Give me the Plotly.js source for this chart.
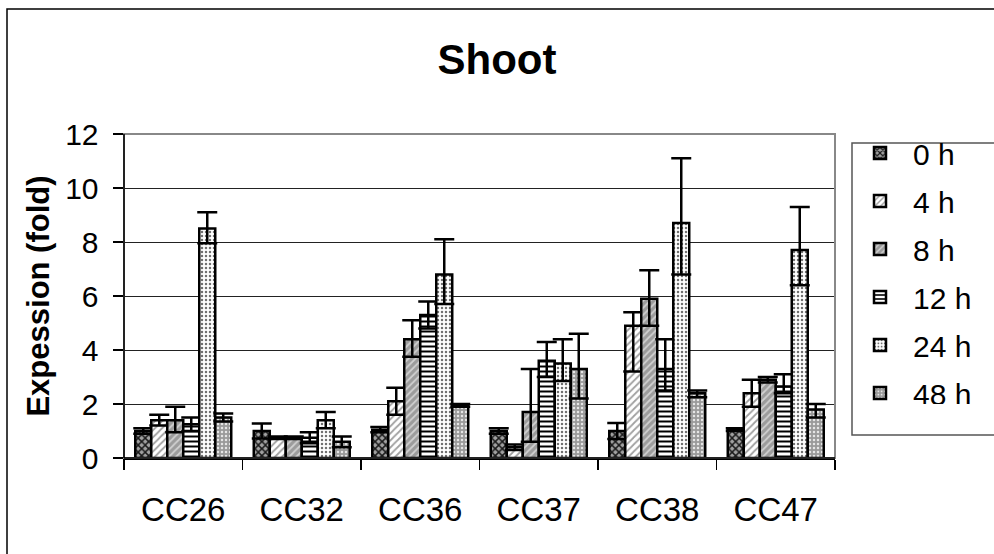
<!DOCTYPE html>
<html>
<head>
<meta charset="utf-8">
<script src="https://cdn.plot.ly/plotly-3.0.1.min.js"></script>
<style>html,body{margin:0;padding:0;background:#fff;}#chart{width:994px;height:554px;}</style>
</head>
<body>
<div id="chart"></div>
<script>
const categories = ["CC26", "CC32", "CC36", "CC37", "CC38", "CC47"];
const seriesNames = ["0 h", "4 h", "8 h", "12 h", "24 h", "48 h"];

const h0 = [1.0, 1.0, 1.05, 1.0, 1.0, 1.05];
const h0Plus = [0.1, 0.28, 0.1, 0.1, 0.3, 0.05];
const h0Minus = [0.1, 0.28, 0.1, 0.1, 0.3, 0.05];

const h4 = [1.4, 0.75, 2.1, 0.4, 4.9, 2.4];
const h4Plus = [0.2, 0.05, 0.5, 0.1, 0.5, 0.5];
const h4Minus = [0.2, 0.05, 0.5, 0.1, 1.7, 0.5];

const h8 = [1.4, 0.75, 4.4, 1.7, 5.9, 2.9];
const h8Plus = [0.5, 0.05, 0.7, 1.6, 1.05, 0.1];
const h8Minus = [0.45, 0.05, 0.65, 1.1, 1.0, 0.1];

const h12 = [1.25, 0.75, 5.3, 3.6, 3.3, 2.65];
const h12Plus = [0.25, 0.2, 0.5, 0.7, 1.1, 0.45];
const h12Minus = [0.25, 0.2, 0.5, 0.6, 0.8, 0.25];

const h24 = [8.5, 1.4, 6.8, 3.5, 8.7, 7.7];
const h24Plus = [0.6, 0.3, 1.3, 0.9, 2.4, 1.6];
const h24Minus = [0.55, 0.3, 1.1, 0.65, 1.9, 1.3];

const h48 = [1.5, 0.6, 1.95, 3.3, 2.4, 1.8];
const h48Plus = [0.15, 0.2, 0.05, 1.3, 0.1, 0.2];
const h48Minus = [0.15, 0.2, 0.05, 1.1, 0.15, 0.3];

const yTickVals = [0, 2, 4, 6, 8, 10, 12];

const values = [h0, h4, h8, h12, h24, h48];
const plus = [h0Plus, h4Plus, h8Plus, h12Plus, h24Plus, h48Plus];
const minus = [h0Minus, h4Minus, h8Minus, h12Minus, h24Minus, h48Minus];

const patterns = [
  {shape: "x", bgcolor: "#a0a0a0", fgcolor: "#1a1a1a", size: 5, solidity: 0.5},
  {shape: "/", bgcolor: "#ffffff", fgcolor: "#a0a0a0", size: 5, solidity: 0.35},
  {shape: "/", bgcolor: "#9c9c9c", fgcolor: "#d0d0d0", size: 5, solidity: 0.35},
  {shape: "-", bgcolor: "#ffffff", fgcolor: "#000000", size: 5, solidity: 0.4},
  {shape: ".", bgcolor: "#ffffff", fgcolor: "#707070", size: 4, solidity: 0.3},
  {shape: ".", bgcolor: "#9a9a9a", fgcolor: "#e6e6e6", size: 4, solidity: 0.3}
];

const traces = seriesNames.map((name, i) => ({
  type: "bar",
  name: name,
  x: categories,
  y: values[i],
  legendgroup: "g" + i,
  marker: {
    color: patterns[i].bgcolor,
    line: {color: "#000", width: 2.5},
    pattern: Object.assign({fillmode: "replace"}, patterns[i])
  },
  error_y: {
    type: "data",
    symmetric: false,
    array: plus[i],
    arrayminus: minus[i],
    color: "#000",
    thickness: 2.5,
    width: 10
  },
  hoverinfo: "x+y+name"
}));

const L = 124, R = 835, T = 134, B = 458, W = 994, H = 554;
const pw = R - L, ph = B - T;
const px = v => (v - L) / pw;
const py = v => (B - v) / ph;

const layout = {
  width: W, height: H,
  margin: {l: L, r: W - R, t: T, b: H - B},
  paper_bgcolor: "#fff",
  plot_bgcolor: "#fff",
  font: {family: "Liberation Sans, Arial, sans-serif", color: "#000"},
  title: {
    text: "<b>Shoot</b>",
    font: {size: 42, family: "Liberation Sans, Arial, sans-serif", color: "#000"},
    xref: "container", x: 0.5, xanchor: "center",
    yref: "container", y: 1 - 59 / H, yanchor: "middle"
  },
  barmode: "group",
  bargap: 0.19,
  bargroupgap: 0,
  showlegend: true,
  legend: {
    x: px(847), xanchor: "left",
    y: py(127), yanchor: "top",
    bgcolor: "rgba(0,0,0,0)",
    borderwidth: 0,
    font: {size: 30, family: "Liberation Sans, Arial, sans-serif", color: "#000"},
    tracegroupgap: 6,
    traceorder: "grouped",
    itemwidth: 56
  },
  xaxis: {
    type: "category",
    showline: true, linecolor: "#000", linewidth: 1.5,
    ticks: "outside", ticklen: 10, tickcolor: "#000", tickwidth: 1.5,
    tickson: "boundaries",
    ticklabelstandoff: 22,
    tickfont: {size: 33, family: "Liberation Sans, Arial, sans-serif", color: "#000"},
    showgrid: false,
    fixedrange: true
  },
  yaxis: {
    range: [0, 12],
    tickvals: yTickVals,
    ticktext: yTickVals.map(String),
    showline: true, linecolor: "#000", linewidth: 1.5,
    ticks: "outside", ticklen: 10, tickcolor: "#000", tickwidth: 1.5,
    ticklabelstandoff: 8,
    tickfont: {size: 30, family: "Liberation Sans, Arial, sans-serif", color: "#000"},
    showgrid: true, gridcolor: "#222", gridwidth: 1,
    zeroline: false,
    title: {
      text: "<b>Expession (fold)</b>",
      font: {size: 31, family: "Liberation Sans, Arial, sans-serif", color: "#000"},
      standoff: 6
    },
    automargin: false,
    fixedrange: true
  },
  shapes: [
    {type: "rect", xref: "paper", yref: "paper", x0: 0, x1: 1, y0: 0, y1: 1,
     line: {color: "#888", width: 2}, fillcolor: "rgba(0,0,0,0)", layer: "above"},
    {type: "line", xref: "paper", yref: "paper", x0: 0, x1: 0, y0: 0, y1: 1,
     line: {color: "#000", width: 1.5}, layer: "above"},
    {type: "line", xref: "paper", yref: "paper", x0: 0, x1: 1, y0: 0, y1: 0,
     line: {color: "#000", width: 1.5}, layer: "above"},
    {type: "rect", xref: "paper", yref: "paper",
     x0: px(7), x1: px(1100), y0: py(700), y1: py(9),
     line: {color: "#000", width: 1.5}, fillcolor: "rgba(0,0,0,0)", layer: "below"},
    {type: "rect", xref: "paper", yref: "paper",
     x0: px(852), x1: px(1100), y0: py(435), y1: py(143),
     line: {color: "#555", width: 1.5}, fillcolor: "rgba(0,0,0,0)", layer: "above"}
  ]
};

Plotly.newPlot("chart", traces, layout, {displayModeBar: false, staticPlot: true});
</script>
</body>
</html>
